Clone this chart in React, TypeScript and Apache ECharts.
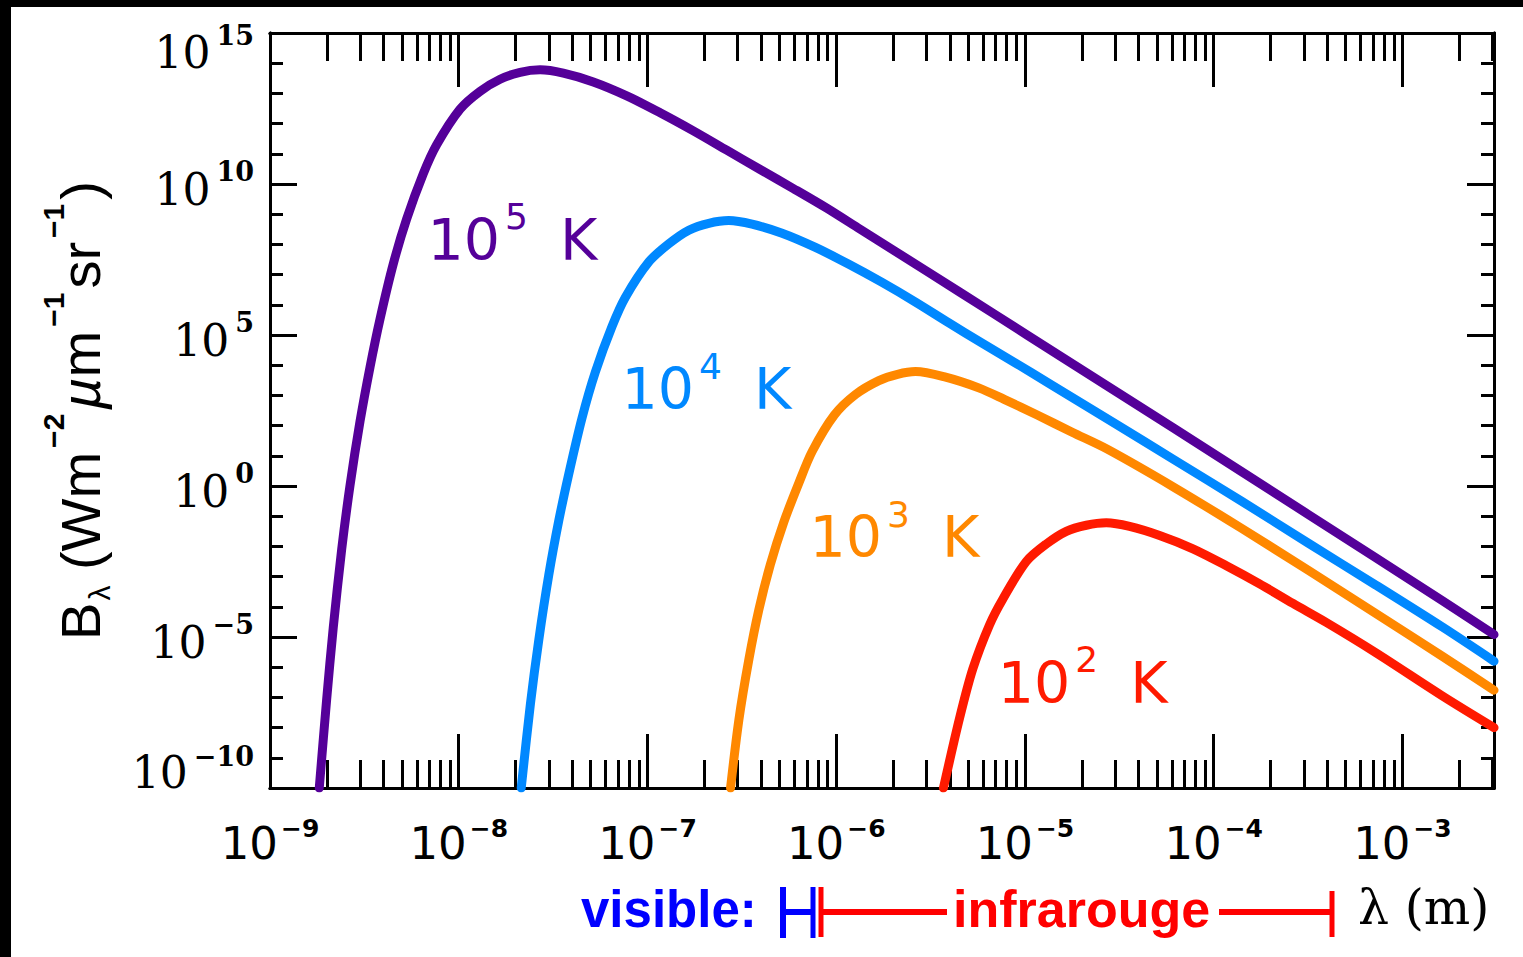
import React, { useEffect, useRef } from "react";
import * as echarts from "echarts";

// ---- axis ranges (log10 of wavelength in m, log10 of B_lambda) ----
const X_MIN = -9;
const X_MAX = -2.515;
const Y_MIN = -10;
const Y_MAX = 15;

// major tick exponents
const xMajor = [-9, -8, -7, -6, -5, -4, -3];
const yMajor = [-10, -5, 0, 5, 10, 15];

// ---- curves: log10(lambda [m]) and log10(B_lambda) ----
// T = 10^5 K
const lam5 = [-8.739, -8.7, -8.665, -8.62, -8.576, -8.523, -8.47, -8.417, -8.347, -8.276, -8.188, -8.117, -7.993, -7.887, -7.781, -7.675, -7.569, -7.446, -7.287, -7.11, -6.933, -6.757, -6.58, -6.403, -6.227, -6.05, -5.873, -5.52, -5.167, -4.813, -4.208, -3.497, -2.786, -2.515];
const B5 = [-10.0, -7.08, -4.7, -2.09, 0.02, 2.14, 3.94, 5.53, 7.35, 8.84, 10.34, 11.3, 12.48, 13.07, 13.47, 13.7, 13.78, 13.67, 13.38, 12.92, 12.36, 11.76, 11.12, 10.48, 9.85, 9.2, 8.5, 7.11, 5.71, 4.3, 1.9, -0.95, -3.81, -4.92];

// T = 10^4 K
const lam4 = [-7.669, -7.62, -7.576, -7.523, -7.47, -7.417, -7.347, -7.276, -7.188, -7.117, -6.993, -6.887, -6.781, -6.675, -6.569, -6.446, -6.287, -6.11, -5.933, -5.757, -5.58, -5.403, -5.227, -5.05, -4.873, -4.52, -4.208, -3.853, -3.497, -3.141, -2.786, -2.515];
const B4 = [-10.0, -7.2, -5.1, -2.95, -1.15, 0.4, 2.25, 3.78, 5.28, 6.25, 7.42, 8.02, 8.47, 8.7, 8.79, 8.67, 8.37, 7.9, 7.34, 6.74, 6.09, 5.4, 4.73, 4.07, 3.4, 2.06, 0.86, -0.5, -1.9, -3.28, -4.68, -5.8];

// T = 10^3 K
const lam3 = [-6.56, -6.516, -6.463, -6.41, -6.349, -6.278, -6.198, -6.127, -6.01, -5.898, -5.774, -5.675, -5.58, -5.43, -5.245, -5.11, -4.935, -4.75, -4.564, -4.208, -3.853, -3.497, -3.141, -2.786, -2.515];
const B3 = [-10.0, -7.75, -5.75, -4.1, -2.6, -1.2, 0.1, 1.15, 2.35, 3.03, 3.49, 3.7, 3.79, 3.62, 3.25, 2.87, 2.35, 1.78, 1.22, -0.05, -1.4, -2.8, -4.22, -5.65, -6.76];

// T = 10^2 K
const lam2 = [-5.432, -5.347, -5.276, -5.188, -5.117, -4.993, -4.887, -4.781, -4.675, -4.569, -4.446, -4.287, -4.11, -3.933, -3.757, -3.58, -3.403, -3.141, -2.786, -2.515];
const B2 = [-10.0, -7.7, -6.05, -4.6, -3.74, -2.5, -1.92, -1.5, -1.3, -1.22, -1.34, -1.64, -2.08, -2.64, -3.24, -3.89, -4.52, -5.52, -6.96, -8.0];

// curve labels: temperature exponent and where the label sits (data coords)
const tempExp = ["5", "4", "3", "2"];
const labelLam = [-8.168, -7.14, -6.144, -5.147];
const labelB = [8.146, 3.21, -1.69, -6.52];
const colors = ["#550099", "#0088ff", "#ff8800", "#ff1a00"];

const curvesLam = [lam5, lam4, lam3, lam2];
const curvesB = [B5, B4, B3, B2];

const xMinor: number[] = [];
for (let d = -9; d <= -3; d++) {
  for (let k = 2; k <= 9; k++) {
    const v = d + Math.log10(k);
    if (v < X_MAX) xMinor.push(v);
  }
}
const yMinor: number[] = [];
for (let v = Y_MIN; v <= Y_MAX; v++) if (v % 5 !== 0) yMinor.push(v);

const minus = (v: number) => String(v).replace("-", "\u2212");
const BLACK = "#000";
const tickLine = { color: BLACK, width: 3 };

function xAxis(pos: string, ticks: number[], len: number, labels: boolean) {
  return {
    type: "value",
    gridIndex: 0,
    position: pos,
    min: X_MIN,
    max: X_MAX,
    axisLine: { show: true, onZero: false, lineStyle: { color: BLACK, width: 3 } },
    axisTick: { show: true, inside: true, length: len, customValues: ticks, lineStyle: tickLine },
    splitLine: { show: false },
    axisLabel: labels
      ? {
          show: true,
          customValues: xMajor,
          margin: 28,
          formatter: (v: number) => `{m|10}{s|${minus(v)}}`,
          rich: {
            m: { fontFamily: "DejaVu Sans", fontSize: 45, color: BLACK },
            s: { fontFamily: "DejaVu Sans", fontWeight: "bold", fontSize: 25, color: BLACK, padding: [0, 0, 29, 3] },
          },
        }
      : { show: false },
  };
}

function yAxis(pos: string, ticks: number[], len: number, labels: boolean, withName: boolean) {
  const ax: any = {
    type: "value",
    gridIndex: 0,
    position: pos,
    min: Y_MIN,
    max: Y_MAX,
    axisLine: { show: true, onZero: false, lineStyle: { color: BLACK, width: 3 } },
    axisTick: { show: true, inside: true, length: len, customValues: ticks, lineStyle: tickLine },
    splitLine: { show: false },
    axisLabel: labels
      ? {
          show: true,
          customValues: yMajor,
          margin: 16,
          formatter: (v: number) => {
            if (v === Y_MAX) return `{mt|10}{st|${minus(v)}}`;
            if (v === Y_MIN) return `{mb|10}{sb|${minus(v)}}`;
            return `{m|10}{s|${minus(v)}}`;
          },
          rich: {
            m: { fontFamily: "DejaVu Serif", fontSize: 44, color: BLACK, padding: [10, 0, 0, 0] },
            s: { fontFamily: "DejaVu Serif", fontWeight: "bold", fontSize: 27, color: BLACK, padding: [0, 0, 26, 6] },
            mt: { fontFamily: "DejaVu Serif", fontSize: 44, color: BLACK, padding: [39, 0, 0, 0] },
            st: { fontFamily: "DejaVu Serif", fontWeight: "bold", fontSize: 27, color: BLACK, padding: [4, 0, 0, 6] },
            mb: { fontFamily: "DejaVu Serif", fontSize: 44, color: BLACK, padding: [0, 0, 31, 0] },
            sb: { fontFamily: "DejaVu Serif", fontWeight: "bold", fontSize: 27, color: BLACK, padding: [0, 0, 64, 6] },
          },
        }
      : { show: false },
  };
  if (withName) {
    ax.name = "{m|B}{sub|\u03bb}{m| (Wm}{sup|\u22122}{mu|\u00b5}{m|m}{sup|\u22121}{m|sr}{sup|\u22121}{m|)}";
    ax.nameLocation = "middle";
    ax.nameRotate = 90;
    ax.nameGap = 148;
    ax.nameTextStyle = {
      rich: {
        m: { fontFamily: "Liberation Sans", fontSize: 56, color: BLACK },
        mu: { fontFamily: "Liberation Sans", fontStyle: "italic", fontSize: 56, color: BLACK },
        sub: { fontFamily: "Liberation Sans", fontSize: 30, color: BLACK, padding: [38, 0, 0, 2] },
        sup: { fontFamily: "Liberation Sans", fontWeight: "bold", fontSize: 30, color: BLACK, padding: [0, 4, 54, 4] },
      },
    };
  }
  return ax;
}

function buildOption() {
  const series = curvesLam.map((lams, i) => ({
    type: "line",
    xAxisIndex: 0,
    yAxisIndex: 0,
    data: lams.map((x, j) => [x, curvesB[i][j]]),
    showSymbol: false,
    symbol: "none",
    smooth: 0.3,
    lineStyle: { color: colors[i], width: 9, cap: "round", join: "round" },
    z: 3 + i,
    markPoint: {
      symbol: "circle",
      symbolSize: 1,
      itemStyle: { color: "rgba(0,0,0,0)" },
      label: {
        show: true,
        position: "right",
        distance: 0,
        formatter: `{m|10}{s|${tempExp[i]}}{m| K}`,
        rich: {
          m: { fontFamily: "DejaVu Sans", fontSize: 57, color: colors[i] },
          s: { fontFamily: "DejaVu Sans", fontSize: 36, color: colors[i], padding: [0, 14, 46, 5] },
        },
      },
      data: [{ coord: [labelLam[i], labelB[i]] }],
    },
  }));

  const ox = 11;
  const oy = 7;
  const blue = "#0000ff";
  const red = "#ff0000";
  const graphic = [
    { type: "text", x: 581 - ox, y: 909 - oy, style: { text: "visible:", font: "bold 51px 'Liberation Sans'", fill: blue, align: "left", verticalAlign: "middle" } },
    { type: "line", shape: { x1: 783 - ox, y1: 887 - oy, x2: 783 - ox, y2: 938 - oy }, style: { stroke: blue, lineWidth: 6 } },
    { type: "line", shape: { x1: 783 - ox, y1: 912 - oy, x2: 813 - ox, y2: 912 - oy }, style: { stroke: blue, lineWidth: 6 } },
    { type: "line", shape: { x1: 813 - ox, y1: 887 - oy, x2: 813 - ox, y2: 938 - oy }, style: { stroke: blue, lineWidth: 5 } },
    { type: "line", shape: { x1: 821 - ox, y1: 887 - oy, x2: 821 - ox, y2: 937 - oy }, style: { stroke: red, lineWidth: 5 } },
    { type: "line", shape: { x1: 821 - ox, y1: 912 - oy, x2: 947 - ox, y2: 912 - oy }, style: { stroke: red, lineWidth: 6 } },
    { type: "text", x: 953 - ox, y: 909 - oy, style: { text: "infrarouge", font: "bold 52px 'Liberation Sans'", fill: red, align: "left", verticalAlign: "middle" } },
    { type: "line", shape: { x1: 1219 - ox, y1: 912 - oy, x2: 1332 - ox, y2: 912 - oy }, style: { stroke: red, lineWidth: 6 } },
    { type: "line", shape: { x1: 1332 - ox, y1: 891 - oy, x2: 1332 - ox, y2: 937 - oy }, style: { stroke: red, lineWidth: 5 } },
    { type: "text", x: 1358 - ox, y: 907 - oy, style: { text: "\u03bb (m)", font: "49px 'DejaVu Serif'", fill: BLACK, align: "left", verticalAlign: "middle" } },
  ];

  return {
    animation: false,
    backgroundColor: "#ffffff",
    grid: { left: 259, top: 26, right: 29, bottom: 169, containLabel: false },
    xAxis: [
      xAxis("bottom", xMajor, 54, true),
      xAxis("top", xMajor, 54, false),
      xAxis("bottom", xMinor, 28, false),
      xAxis("top", xMinor, 28, false),
    ],
    yAxis: [
      yAxis("left", yMajor, 27, true, true),
      yAxis("right", yMajor, 27, false, false),
      yAxis("left", yMinor, 13, false, false),
      yAxis("right", yMinor, 13, false, false),
    ],
    series,
    graphic,
  };
}

export default function App() {
  const ref = useRef<HTMLDivElement>(null);
  useEffect(() => {
    document.body.style.margin = "0";
    const chart = echarts.init(ref.current!, null, { renderer: "svg" });
    chart.setOption(buildOption() as any);
    return () => chart.dispose();
  }, []);
  return (
    <div style={{ position: "relative", width: 1523, height: 957, background: "#000", overflow: "hidden" }}>
      <div ref={ref} style={{ position: "absolute", left: 11, top: 7, width: 1512, height: 950, background: "#fff" }} />
    </div>
  );
}
